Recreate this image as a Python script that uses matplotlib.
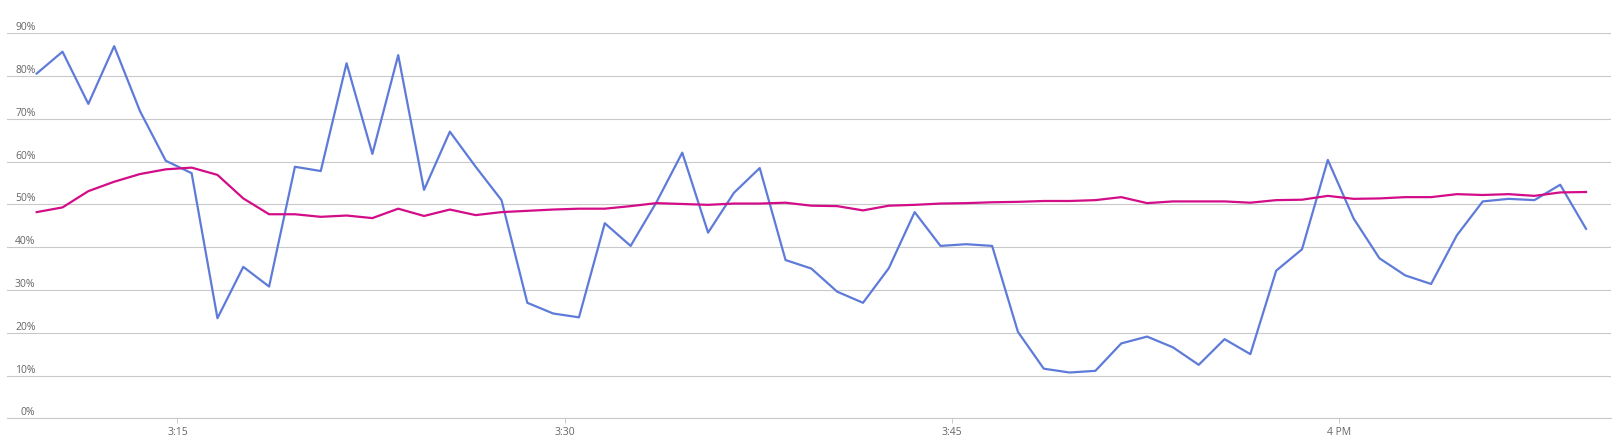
import numpy as np
import pandas as pd
import matplotlib
matplotlib.use('Agg')
from matplotlib import pyplot as plt
import matplotlib.dates as mdates

plt.rcParams['font.family'] = ['Open Sans', 'DejaVu Sans']

# one sample per minute, starting 3:09:33 PM
times = pd.date_range('2024-01-01 15:09:33', periods=61, freq='1min')

blue = [80.6, 85.7, 73.5, 87.0, 71.8, 60.2, 57.3, 23.4, 35.4, 30.8,
        58.8, 57.8, 83.0, 61.8, 84.9, 53.4, 67.0, 58.8, 51.0, 27.0,
        24.5, 23.6, 45.6, 40.3, 50.5, 62.1, 43.4, 52.7, 58.5, 37.0,
        35.0, 29.6, 27.0, 35.1, 48.2, 40.3, 40.7, 40.3, 20.2, 11.6,
        10.7, 11.1, 17.5, 19.1, 16.6, 12.5, 18.5, 15.0, 34.5, 39.5,
        60.4, 46.7, 37.4, 33.4, 31.4, 42.8, 50.7, 51.3, 51.0, 54.6,
        44.3]

magenta = [48.2, 49.3, 53.1, 55.3, 57.1, 58.2, 58.6, 56.9, 51.4, 47.7,
           47.7, 47.1, 47.4, 46.8, 49.0, 47.3, 48.8, 47.5, 48.2, 48.5,
           48.8, 49.0, 49.0, 49.6, 50.3, 50.1, 49.9, 50.2, 50.2, 50.4,
           49.7, 49.6, 48.6, 49.7, 49.9, 50.2, 50.3, 50.5, 50.6, 50.8,
           50.8, 51.0, 51.7, 50.3, 50.7, 50.7, 50.7, 50.4, 51.0, 51.1,
           52.0, 51.3, 51.4, 51.7, 51.7, 52.4, 52.2, 52.4, 52.0, 52.8,
           52.9]

y_ticks = [0, 10, 20, 30, 40, 50, 60, 70, 80, 90]
x_ticks = ['2024-01-01 15:15', '2024-01-01 15:30', '2024-01-01 15:45', '2024-01-01 16:00']
x_labels = ['3:15', '3:30', '3:45', '4 PM']

fig = plt.figure(figsize=(16.22, 4.45), dpi=100)
ax = fig.add_axes([7 / 1622, 26.7 / 445, 1604 / 1622, 385 / 445])

ax.plot(times, blue, color='#5f7bd9', lw=1.6, zorder=3)
ax.plot(times, magenta, color='#d30c87', lw=1.6, zorder=4)

ax.set_ylim(0, 90)
ax.set_xlim(pd.Timestamp('2024-01-01 15:08:24'), pd.Timestamp('2024-01-01 16:10:31'))

ax.set_yticks(y_ticks)
ax.set_yticklabels([f'{v}%' for v in y_ticks])
ax.grid(axis='y', color='#c9c9c9', lw=0.8)
ax.set_axisbelow(True)
ax.tick_params(axis='y', length=0, pad=-20.5, labelsize=7.5, labelcolor='#666666')
for lab in ax.get_yticklabels():
    lab.set_verticalalignment('bottom')

ax.set_xticks([pd.Timestamp(t) for t in x_ticks])
ax.set_xticklabels(x_labels)
ax.tick_params(axis='x', length=3.6, width=0.7, color='#c9c9c9', pad=2.5,
               labelsize=7.5, labelcolor='#666666')

for s in ['top', 'right', 'left']:
    ax.spines[s].set_visible(False)
ax.spines['bottom'].set_color('#c9c9c9')
ax.spines['bottom'].set_linewidth(0.8)

fig.savefig('out.png', dpi=100)
